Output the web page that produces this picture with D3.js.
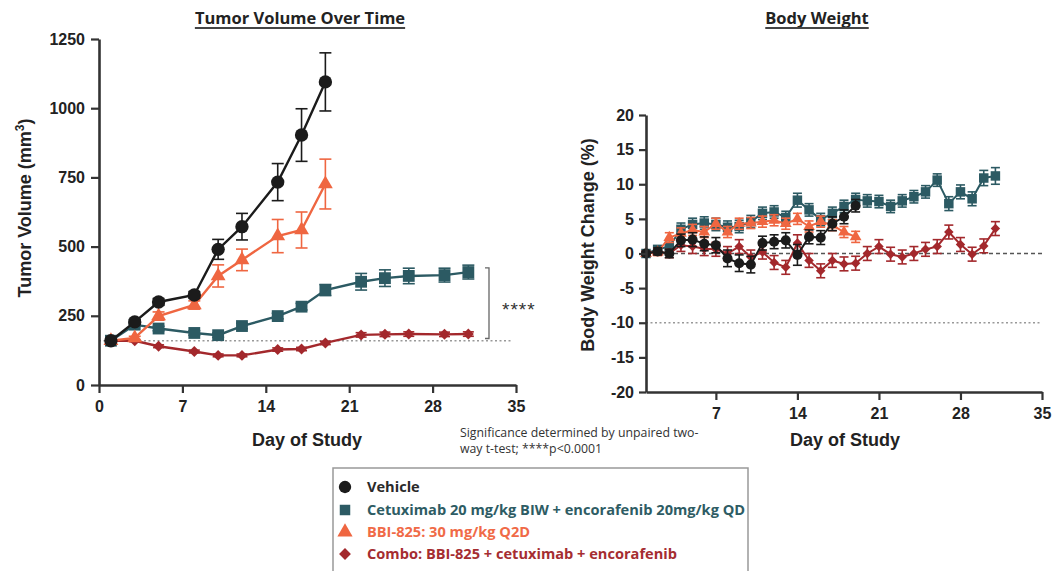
<!DOCTYPE html>
<html>
<head>
<meta charset="utf-8">
<script src="https://cdn.jsdelivr.net/npm/d3@7"></script>
<style>
  body { margin: 0; background: #fff; }
  svg { display: block; }
</style>
</head>
<body>
<div id="chart"></div>
<script>
// ---- tumor volume data (mm3, mean +/- sem) ----
var tvDaysShort = [1, 3, 5, 8, 10, 12, 15, 17, 19];
var tvDaysLong = [1, 3, 5, 8, 10, 12, 15, 17, 19, 22, 24, 26, 29, 31];
var tvVehicle = [160, 228, 300, 325, 490, 572, 733, 903, 1095];
var tvVehicleErr = [0, 8, 12, 12, 36, 48, 67, 95, 105];
var tvBBI = [160, 170, 249, 289, 394, 452, 538, 560, 726];
var tvBBIErr = [0, 6, 15, 15, 40, 39, 60, 65, 90];
var tvCetux = [160, 218, 204, 188, 180, 213, 249, 283, 343, 373, 386, 394, 397, 408];
var tvCetuxErr = [0, 6, 8, 8, 8, 10, 10, 12, 20, 30, 30, 28, 25, 25];
var tvCombo = [160, 160, 140, 121, 107, 107, 128, 130, 152, 181, 183, 184, 183, 184];
var tvComboErr = [0, 4, 5, 5, 5, 5, 6, 6, 6, 8, 8, 8, 8, 8];
var tvBaseline = 160;
var tvTicksY = [0, 250, 500, 750, 1000, 1250];
var dayTicks = [0, 7, 14, 21, 28, 35];

// ---- body weight data (% change) ----
var bwDaysShort = [1, 2, 3, 4, 5, 6, 7, 8, 9, 10, 11, 12, 13, 14, 15, 16, 17, 18, 19];
var bwDaysLong = [1, 2, 3, 4, 5, 6, 7, 8, 9, 10, 11, 12, 13, 14, 15, 16, 17, 18, 19, 20, 21, 22, 23, 24, 25, 26, 27, 28, 29, 30, 31];
var bwVehicle = [0, 0.3, 0, 1.9, 2.0, 1.4, 1.2, -0.7, -1.4, -1.6, 1.5, 1.7, 1.9, -0.2, 2.4, 2.3, 4.3, 5.3, 6.9];
var bwVehicleErr = [0.3, 0.5, 0.6, 0.9, 1.0, 1.0, 1.1, 1.2, 1.2, 1.2, 1.0, 1.0, 1.1, 1.5, 1.0, 1.0, 1.0, 1.0, 0.9];
var bwBBI = [0, 0.2, 2.3, 2.9, 3.4, 3.1, 4.3, 3.1, 4.3, 4.4, 4.6, 4.8, 4.3, 5.0, 3.9, 4.6, 4.1, 3.1, 2.4];
var bwBBIErr = [0.3, 0.5, 0.7, 0.8, 0.8, 0.8, 0.8, 0.8, 0.8, 0.8, 0.8, 0.8, 0.8, 0.8, 0.8, 0.8, 0.8, 0.8, 0.8];
var bwCetux = [0, 0.6, 1.0, 3.5, 4.2, 4.4, 4.2, 3.8, 3.9, 4.6, 5.8, 6.0, 5.2, 7.7, 6.3, 4.9, 5.8, 6.8, 7.8, 7.6, 7.5, 6.8, 7.6, 8.2, 8.9, 10.6, 7.2, 8.9, 7.9, 10.9, 11.2];
var bwCetuxErr = [0.3, 0.5, 0.6, 0.9, 0.9, 0.9, 0.9, 0.9, 0.9, 0.9, 0.9, 0.9, 0.9, 1.0, 0.9, 0.9, 0.9, 0.9, 0.9, 0.9, 0.9, 0.9, 0.9, 0.9, 0.9, 0.9, 1.0, 1.0, 1.0, 1.1, 1.2];
var bwCombo = [0, 0.3, 0, 1.2, 1.0, 0.7, 0.6, 0, 1.0, -0.5, 0.2, -1.3, -2.0, 1.5, -1.0, -2.5, -1.0, -1.5, -1.4, 0, 1.0, -0.1, -0.5, 0, 0.6, 1.0, 3.1, 1.3, -0.1, 1.1, 3.6];
var bwComboErr = [0.3, 0.5, 0.6, 0.9, 1.0, 1.0, 1.0, 1.0, 1.0, 1.0, 1.0, 1.0, 1.0, 1.2, 1.0, 1.0, 1.0, 1.0, 1.0, 1.0, 1.0, 1.0, 1.0, 1.0, 1.0, 1.0, 1.0, 1.0, 1.0, 1.0, 1.0];
var bwTicksY = [-20, -15, -10, -5, 0, 5, 10, 15, 20];
var bwTicksX = [7, 14, 21, 28, 35];

var legendLabels = [
  "Vehicle",
  "Cetuximab 20 mg/kg BIW + encorafenib 20mg/kg QD",
  "BBI-825: 30 mg/kg Q2D",
  "Combo: BBI-825 + cetuximab + encorafenib"
];

var cVehicle = "#1b1b1b", cCetux = "#2c5a63", cBBI = "#ef6641", cCombo = "#a3282c";
var tickFont = "'Liberation Sans', Arial, sans-serif";
var noteFont = "'Open Sans', 'Noto Sans', sans-serif";

var width = 1056, height = 571;
var svg = d3.select("#chart").append("svg")
    .attr("width", width)
    .attr("height", height);
svg.append("rect").attr("width", width).attr("height", height).attr("fill", "#fff");

// symbol helper (diamond = square turned 45deg, like Prism)
function marker(g, shape, size, color) {
  var types = { circle: d3.symbolCircle, square: d3.symbolSquare, triangle: d3.symbolTriangle, diamond: d3.symbolSquare };
  var p = g.append("g");
  p.append("path")
    .attr("d", d3.symbol().type(types[shape]).size(size)())
    .attr("transform", shape === "diamond" ? "rotate(45)" : null)
    .attr("fill", color);
  return p;
}

// draw one series: line, error bars, markers
function drawSeries(g, x, y, days, vals, errs, color, shape, size, lw, capW) {
  var pts = days.map(function (d, i) { return { d: d, v: vals[i], e: errs[i] }; });
  var line = d3.line().x(function (p) { return x(p.d); }).y(function (p) { return y(p.v); });
  var s = g.append("g");
  s.append("path").datum(pts).attr("d", line)
    .attr("fill", "none").attr("stroke", color).attr("stroke-width", lw);
  var eb = s.selectAll(".eb").data(pts).enter().append("g").attr("class", "eb");
  eb.append("line")
    .attr("x1", function (p) { return x(p.d); }).attr("x2", function (p) { return x(p.d); })
    .attr("y1", function (p) { return y(p.v - p.e); }).attr("y2", function (p) { return y(p.v + p.e); })
    .attr("stroke", color).attr("stroke-width", 1.6);
  [-1, 1].forEach(function (sg) {
    eb.append("line")
      .attr("x1", function (p) { return x(p.d) - capW / 2; }).attr("x2", function (p) { return x(p.d) + capW / 2; })
      .attr("y1", function (p) { return y(p.v + sg * p.e); }).attr("y2", function (p) { return y(p.v + sg * p.e); })
      .attr("stroke", color).attr("stroke-width", 1.6);
  });
  pts.forEach(function (p) {
    marker(s, shape, size, color).attr("transform", "translate(" + x(p.d) + "," + y(p.v) + ")");
  });
}

function styleAxis(g) {
  g.selectAll(".domain").attr("stroke", "#333").attr("stroke-width", 2.6);
  g.selectAll(".tick line").attr("stroke", "#333").attr("stroke-width", 2.2);
  g.selectAll(".tick text").attr("fill", "#222")
    .style("font-family", tickFont).style("font-weight", "bold").style("font-size", "16px");
}

function title(txt, cx, y) {
  var t = svg.append("text").attr("x", cx).attr("y", y).attr("text-anchor", "middle")
    .style("font-family", noteFont).style("font-weight", "bold").style("font-size", "16.5px")
    .attr("fill", "#222").text(txt);
  var w = t.node().getComputedTextLength();
  svg.append("line").attr("x1", cx - w / 2).attr("x2", cx + w / 2)
    .attr("y1", y + 4).attr("y2", y + 4).attr("stroke", "#444").attr("stroke-width", 1.8);
}

// ================= left: tumor volume =================
var x1 = d3.scaleLinear().domain([0, 35]).range([99, 516]);
var y1 = d3.scaleLinear().domain([0, 1250]).range([385, 39]);

title("Tumor Volume Over Time", 300, 24);

var gL = svg.append("g");
gL.append("line")
  .attr("x1", x1(0)).attr("x2", x1(34.6))
  .attr("y1", y1(tvBaseline)).attr("y2", y1(tvBaseline))
  .attr("stroke", "#999").attr("stroke-width", 1.5).attr("stroke-dasharray", "2,2.5");

drawSeries(gL, x1, y1, tvDaysLong, tvCombo, tvComboErr, cCombo, "diamond", 60, 2.4, 11);
drawSeries(gL, x1, y1, tvDaysLong, tvCetux, tvCetuxErr, cCetux, "square", 140, 2.4, 12);
drawSeries(gL, x1, y1, tvDaysShort, tvBBI, tvBBIErr, cBBI, "triangle", 95, 2.4, 12);
drawSeries(gL, x1, y1, tvDaysShort, tvVehicle, tvVehicleErr, cVehicle, "circle", 140, 2.4, 12);

var axL = svg.append("g").attr("transform", "translate(" + x1(0) + ",0)")
  .call(d3.axisLeft(y1).tickValues(tvTicksY).tickSize(8).tickSizeOuter(0).tickPadding(6)
    .tickFormat(function (d) { return String(d); }));
styleAxis(axL);
var axLx = svg.append("g").attr("transform", "translate(0," + y1(0) + ")")
  .call(d3.axisBottom(x1).tickValues(dayTicks).tickSize(8).tickSizeOuter(0).tickPadding(8));
styleAxis(axLx);

// significance bracket
var bx = 489;
var br = svg.append("g").attr("stroke", "#666").attr("stroke-width", 1.3).attr("fill", "none");
br.append("path").attr("d",
  "M" + (bx - 4) + "," + y1(423) + "H" + bx + "V" + y1(168) + "H" + (bx - 4));
svg.append("text").attr("x", 502).attr("y", 316)
  .style("font-family", tickFont).style("font-size", "19px").style("letter-spacing", "1px")
  .attr("fill", "#333").text("****");

svg.append("text")
  .attr("transform", "translate(31," + 208 + ") rotate(-90)")
  .attr("text-anchor", "middle")
  .style("font-family", tickFont).style("font-weight", "bold").style("font-size", "18px")
  .attr("fill", "#222")
  .call(function (t) {
    t.append("tspan").text("Tumor Volume (mm");
    t.append("tspan").attr("dy", -7).style("font-size", "12px").text("3");
    t.append("tspan").attr("dy", 7).text(")");
  });
svg.append("text").attr("x", 307).attr("y", 446).attr("text-anchor", "middle")
  .style("font-family", tickFont).style("font-weight", "bold").style("font-size", "18px")
  .attr("fill", "#222").text("Day of Study");

svg.append("text").attr("x", 460).attr("y", 437)
  .style("font-family", noteFont).style("font-size", "12.3px").attr("fill", "#333")
  .text("Significance determined by unpaired two-");
svg.append("text").attr("x", 460).attr("y", 453)
  .style("font-family", noteFont).style("font-size", "12.3px").attr("fill", "#333")
  .text("way t-test; ****p<0.0001");

// ================= right: body weight =================
var x2 = d3.scaleLinear().domain([1, 35]).range([646, 1042]);
var y2 = d3.scaleLinear().domain([-20, 20]).range([392, 115]);

title("Body Weight", 817, 24);

var gR = svg.append("g");
gR.append("line")
  .attr("x1", x2(1)).attr("x2", x2(35.2))
  .attr("y1", y2(0)).attr("y2", y2(0))
  .attr("stroke", "#555").attr("stroke-width", 1.6).attr("stroke-dasharray", "4,3");
gR.append("line")
  .attr("x1", x2(1)).attr("x2", x2(34.8))
  .attr("y1", y2(-10)).attr("y2", y2(-10))
  .attr("stroke", "#999").attr("stroke-width", 1.4).attr("stroke-dasharray", "2,2.5");

drawSeries(gR, x2, y2, bwDaysLong, bwCetux, bwCetuxErr, cCetux, "square", 90, 2, 9);
drawSeries(gR, x2, y2, bwDaysShort, bwBBI, bwBBIErr, cBBI, "triangle", 60, 2, 9);
drawSeries(gR, x2, y2, bwDaysLong, bwCombo, bwComboErr, cCombo, "diamond", 45, 2, 9);
drawSeries(gR, x2, y2, bwDaysShort, bwVehicle, bwVehicleErr, cVehicle, "circle", 80, 2, 9);

var axR = svg.append("g").attr("transform", "translate(" + x2(1) + ",0)")
  .call(d3.axisLeft(y2).tickValues(bwTicksY).tickSize(7).tickSizeOuter(0).tickPadding(5)
    .tickFormat(function (d) { return String(d); }));
styleAxis(axR);
var axRx = svg.append("g").attr("transform", "translate(0," + y2(-20) + ")")
  .call(d3.axisBottom(x2).tickValues(bwTicksX).tickSize(8).tickSizeOuter(0).tickPadding(8));
styleAxis(axRx);

svg.append("text")
  .attr("transform", "translate(594," + 245 + ") rotate(-90)")
  .attr("text-anchor", "middle")
  .style("font-family", tickFont).style("font-weight", "bold").style("font-size", "18px")
  .attr("fill", "#222").text("Body Weight Change (%)");
svg.append("text").attr("x", 845).attr("y", 446).attr("text-anchor", "middle")
  .style("font-family", tickFont).style("font-weight", "bold").style("font-size", "18px")
  .attr("fill", "#222").text("Day of Study");

// ================= legend =================
var lg = svg.append("g");
lg.append("rect").attr("x", 333).attr("y", 468).attr("width", 415).attr("height", 120)
  .attr("fill", "#fff").attr("stroke", "#999").attr("stroke-width", 1.5);
var legendShapes = ["circle", "square", "triangle", "diamond"];
var legendColors = [cVehicle, cCetux, cBBI, cCombo];
var legendTextColors = ["#2a2a2a", "#2e5c64", "#f06a47", "#a52d31"];
var legendSizes = [120, 110, 100, 70];
var rowY = [487, 510, 532, 554];
legendLabels.forEach(function (lab, i) {
  marker(lg, legendShapes[i], legendSizes[i], legendColors[i])
    .attr("transform", "translate(345," + rowY[i] + ")");
  lg.append("text").attr("x", 367).attr("y", rowY[i] + 5)
    .style("font-family", noteFont).style("font-weight", "bold").style("font-size", "14.6px")
    .attr("fill", legendTextColors[i]).text(lab);
});
</script>
</body>
</html>
